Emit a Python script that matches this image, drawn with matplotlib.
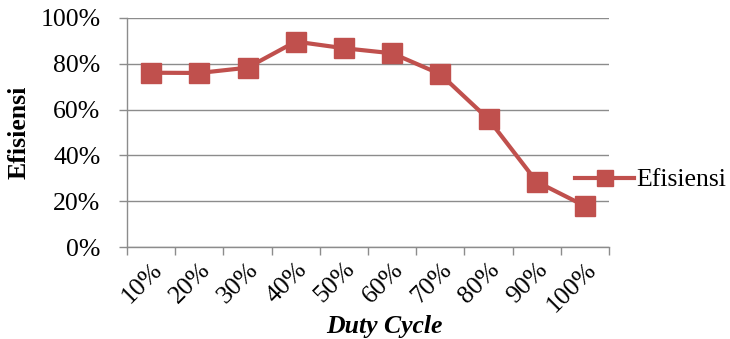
import matplotlib
matplotlib.use("Agg")
import matplotlib.pyplot as plt
from matplotlib.ticker import FixedLocator, PercentFormatter
from matplotlib.transforms import ScaledTranslation

categories = ["10%", "20%", "30%", "40%", "50%", "60%", "70%", "80%", "90%", "100%"]
efisiensi = [76.1, 76.0, 78.3, 89.7, 86.8, 84.6, 75.5, 55.8, 28.5, 17.9]
yticks = [0, 20, 40, 60, 80, 100]

plt.rcParams['font.family'] = ['Liberation Serif', 'DejaVu Serif']
FS = 18.5

fig = plt.figure(figsize=(7.3, 3.39), dpi=100)
ax = fig.add_axes([127/730, 1-247/339, (609-127)/730, (247-18)/339])

color = "#C0504D"
x = list(range(len(categories)))
ax.plot(x, efisiensi, color=color, lw=3, marker="s", markersize=14, label="Efisiensi")

ax.set_xlim(-0.5, len(categories) - 0.5)
ax.set_ylim(0, 100)
ax.set_yticks(yticks)
ax.yaxis.set_major_formatter(PercentFormatter(decimals=0))
ax.grid(axis="y", color="#8c8c8c", lw=1)
ax.set_axisbelow(True)

ax.set_xticks(x)
ax.set_xticklabels(categories, rotation=45, ha="right", va="top", rotation_mode="anchor")
off = ScaledTranslation(10/100, 0, fig.dpi_scale_trans)
for lbl in ax.get_xticklabels():
    lbl.set_transform(lbl.get_transform() + off)
ax.xaxis.set_minor_locator(FixedLocator([i - 0.5 for i in range(len(categories) + 1)]))
ax.tick_params(axis="x", which="major", length=0, labelsize=FS, pad=8)
ax.tick_params(axis="x", which="minor", length=6, color="#8c8c8c", width=1)
ax.tick_params(axis="y", length=6, color="#8c8c8c", width=1, labelsize=FS, pad=13)

for s in ["top", "right"]:
    ax.spines[s].set_visible(False)
for s in ["left", "bottom"]:
    ax.spines[s].set_color("#8c8c8c")
    ax.spines[s].set_linewidth(1)

ax.set_ylabel("Efisiensi", fontsize=FS, fontweight="bold")
ax.yaxis.set_label_coords(-(127-19)/(609-127), 0.5, transform=ax.transAxes)
ax.set_xlabel("Duty Cycle", fontsize=FS, fontweight="bold", fontstyle="italic")
ax.xaxis.set_label_coords((384-127)/(609-127), -(326-247)/(247-18), transform=ax.transAxes)
ax.xaxis.label.set_va("center")
ax.yaxis.label.set_va("center")

fig.legend(loc="center left", bbox_to_anchor=(575/730, 1-180/339), frameon=False,
           fontsize=FS, handlelength=2.3, handletextpad=0.1, markerscale=0.85,
           borderaxespad=0, borderpad=0)

fig.savefig("out.png", dpi=100)
